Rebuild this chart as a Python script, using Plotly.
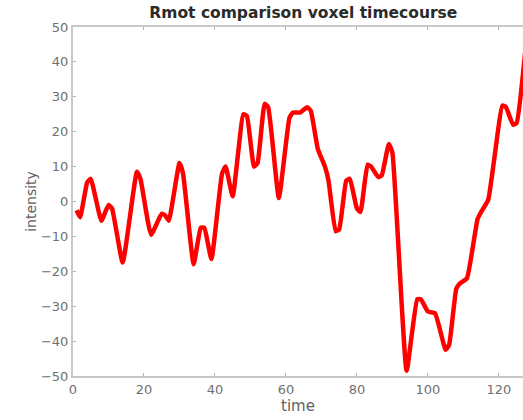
import plotly.graph_objects as go

time = [1, 2, 4, 5, 8, 10, 11, 14, 18, 19, 22, 25, 26, 27, 30, 31, 34, 36, 37, 39,
        42, 43, 45, 48, 49, 51, 52, 54, 55, 58, 61, 62, 64, 66, 67, 69, 71, 72, 74, 75,
        77, 78, 80, 81, 83, 84, 86, 87, 89, 90, 94, 97, 98, 100, 102, 105, 106, 108, 109, 111,
        114, 115, 117, 121, 122, 124, 125, 128]
intensity = [-2.5, -4.5, 5.5, 6.5, -5.5, -1, -2, -17.5, 8.5, 6.5, -9.5, -3.5, -4, -5.5, 11, 8, -18, -7.5, -7.5, -16.5,
             8, 10, 1.5, 25, 24.5, 10, 11, 28, 27, 1, 24, 25.5, 25.5, 27, 26, 15, 10, 6, -8.5, -8,
             6, 6.5, -2, -3, 10.5, 10, 7, 7.5, 16.5, 14, -48.5, -28, -28, -31.5, -32, -42.5, -41, -25, -23.5, -22,
             -5, -3, 0.5, 27.5, 27, 22, 22.5, 49]

x_ticks = [0, 20, 40, 60, 80, 100, 120]
y_ticks = [-50, -40, -30, -20, -10, 0, 10, 20, 30, 40, 50]

FONT = "DejaVu Sans, Verdana, sans-serif"

fig = go.Figure()
fig.add_trace(go.Scatter(x=time, y=intensity, mode="lines",
                         line=dict(color="#ff0000", width=4.5, shape="spline", smoothing=0.4),
                         showlegend=False))

axis_common = dict(showline=True, linecolor="#c8c8c8", linewidth=2,
                   ticks="inside", ticklen=3, tickcolor="#b4b4b4", showgrid=False, zeroline=False,
                   tickfont=dict(family=FONT, size=13, color="#707070"))

fig.update_layout(
    width=523, height=420,
    margin=dict(l=73, r=0, t=27, b=44),
    plot_bgcolor="white", paper_bgcolor="white",
    title=dict(text="<b>Rmot comparison voxel timecourse</b>", x=0.58, xanchor="center",
               y=1 - 13 / 420, yanchor="middle",
               font=dict(family=FONT, size=15.5, color="#2a2a2a")),
    xaxis=dict(range=[0, 126.8], tickvals=x_ticks, mirror="ticks",
               title=dict(text="time", standoff=5,
                          font=dict(family=FONT, size=15, color="#606060")),
               **axis_common),
    yaxis=dict(range=[-50, 50], tickvals=y_ticks, mirror=False,
               title=dict(text="intensity", standoff=1,
                          font=dict(family=FONT, size=14, color="#606060")),
               **axis_common),
)

fig.write_html("out.html")
